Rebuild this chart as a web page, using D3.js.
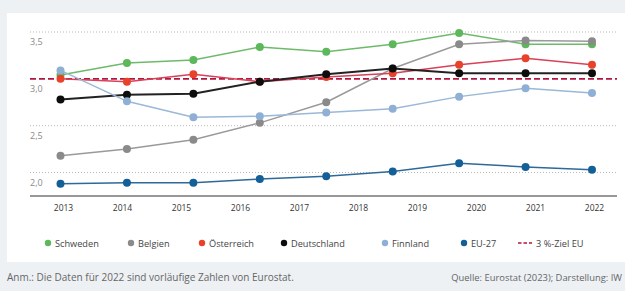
<!DOCTYPE html>
<html>
<head>
<meta charset="utf-8">
<script src="https://cdn.jsdelivr.net/npm/d3@7"></script>
<style>
  html, body { margin: 0; padding: 0; background: #edf1f4; }
  svg { display: block; font-family: "Open Sans", "Noto Sans", sans-serif; }
</style>
</head>
<body>
<svg id="chart" width="625" height="291"></svg>
<script>
// ── Data ──────────────────────────────────────────────────────
const years = ['2013', '2014', '2015', '2016', '2017', '2018', '2019', '2020', '2021', '2022'];
const yTicks = [2.0, 2.5, 3.0, 3.5];

const schweden    = [3.04, 3.17, 3.20, 3.34, 3.29, 3.37, 3.49, 3.37, 3.37];
const belgien     = [2.18, 2.25, 2.35, 2.53, 2.75, 3.11, 3.37, 3.41, 3.40];
const oesterreich = [3.00, 2.97, 3.05, 2.97, 3.02, 3.06, 3.15, 3.22, 3.15];
const deutschland = [2.78, 2.83, 2.84, 2.97, 3.05, 3.11, 3.06, 3.06, 3.06];
const finnland    = [3.09, 2.76, 2.59, 2.60, 2.64, 2.68, 2.81, 2.90, 2.85];
const eu27        = [1.88, 1.89, 1.89, 1.93, 1.96, 2.01, 2.10, 2.06, 2.03];
const target = 3.0;

const series = [
  { name: 'Schweden',    values: schweden,    color: '#5cb85a', line: '#6dbb6a' },
  { name: 'Belgien',     values: belgien,     color: '#8a8a8a', line: '#9a9a9a' },
  { name: 'Österreich',  values: oesterreich, color: '#e8432a', line: '#d9405a' },
  { name: 'Deutschland', values: deutschland, color: '#0d0d0d', line: '#222222' },
  { name: 'Finnland',    values: finnland,    color: '#8fb0d4', line: '#9ab8d8' },
  { name: 'EU-27',       values: eu27,        color: '#135f98', line: '#2d6a9a' }
];

const svg = d3.select('#chart');

// ── Card background ──────────────────────────────────────────
svg.append('rect').attr('x', 0).attr('y', 0).attr('width', 625).attr('height', 291).attr('fill', '#edf1f4');
svg.append('rect').attr('x', 7).attr('y', 13).attr('width', 618).attr('height', 249).attr('fill', '#ffffff');

// ── Scales ───────────────────────────────────────────────────
const y = d3.scaleLinear().domain([2.0, 3.5]).range([172.5, 32]);
const xLabel = d3.scalePoint().domain(years).range([63, 594]);
const xData = d3.scaleLinear().domain([0, schweden.length - 1]).range([60.5, 592]);
const gridX0 = 30, gridX1 = 617;

// grid
svg.append('g').selectAll('line')
  .data(yTicks.filter(t => t !== target))
  .join('line')
  .attr('x1', gridX0).attr('x2', gridX1)
  .attr('y1', d => y(d)).attr('y2', d => y(d))
  .attr('stroke', '#b9b9b9')
  .attr('stroke-width', 1)
  .attr('stroke-dasharray', '1,2');

// y labels
svg.append('g').selectAll('text')
  .data(yTicks)
  .join('text')
  .attr('x', 30)
  .attr('y', d => y(d) + 13)
  .attr('font-size', 9)
  .attr('fill', '#8a8a8a')
  .text(d => d3.format('.1f')(d).replace('.', ','));

// baseline + x axis
const xAxis = d3.axisBottom(xLabel).tickSize(0).tickPadding(9);
const gx = svg.append('g').attr('transform', 'translate(0,196)').call(xAxis);
gx.select('.domain').remove();
gx.selectAll('text').attr('font-size', 8.5).attr('fill', '#333').attr('font-family', '"Open Sans", sans-serif');
svg.append('line')
  .attr('x1', gridX0).attr('x2', gridX1).attr('y1', 196).attr('y2', 196)
  .attr('stroke', '#333').attr('stroke-width', 1.2);

// target line
svg.append('line')
  .attr('x1', gridX0).attr('x2', gridX1)
  .attr('y1', y(target)).attr('y2', y(target))
  .attr('stroke', '#b2163f')
  .attr('stroke-width', 1.6)
  .attr('stroke-dasharray', '6,3');

// ── Lines & markers ──────────────────────────────────────────
const line = d3.line().x((d, i) => xData(i)).y(d => y(d));

series.forEach(s => {
  const g = svg.append('g');
  g.append('path')
    .attr('d', line(s.values))
    .attr('fill', 'none')
    .attr('stroke', s.line)
    .attr('stroke-width', s.name === 'Deutschland' ? 2 : 1.5);
  g.selectAll('circle')
    .data(s.values)
    .join('circle')
    .attr('cx', (d, i) => xData(i))
    .attr('cy', d => y(d))
    .attr('r', 4)
    .attr('fill', s.color);
});

// ── Legend ───────────────────────────────────────────────────
const legendX = [48, 131, 202, 284, 385, 464];
const legend = svg.append('g');
series.forEach((s, i) => {
  legend.append('circle').attr('cx', legendX[i]).attr('cy', 243).attr('r', 3.2).attr('fill', s.color);
  legend.append('text').attr('x', legendX[i] + 7).attr('y', 246.5)
    .attr('font-size', 9.2).attr('fill', '#444').text(s.name);
});
legend.append('line')
  .attr('x1', 518).attr('x2', 532).attr('y1', 243).attr('y2', 243)
  .attr('stroke', '#b2163f').attr('stroke-width', 1.3).attr('stroke-dasharray', '3.5,2');
legend.append('text').attr('x', 536).attr('y', 246.5)
  .attr('font-size', 9.2).attr('fill', '#444').text('3 %-Ziel EU');

// ── Footer ───────────────────────────────────────────────────
svg.append('text').attr('x', 7).attr('y', 281)
  .attr('font-size', 10).attr('fill', '#666')
  .text('Anm.: Die Daten für 2022 sind vorläufige Zahlen von Eurostat.');
svg.append('text').attr('x', 622).attr('y', 281)
  .attr('text-anchor', 'end')
  .attr('font-size', 9.4).attr('fill', '#666')
  .text('Quelle: Eurostat (2023); Darstellung: IW');
</script>
</body>
</html>
